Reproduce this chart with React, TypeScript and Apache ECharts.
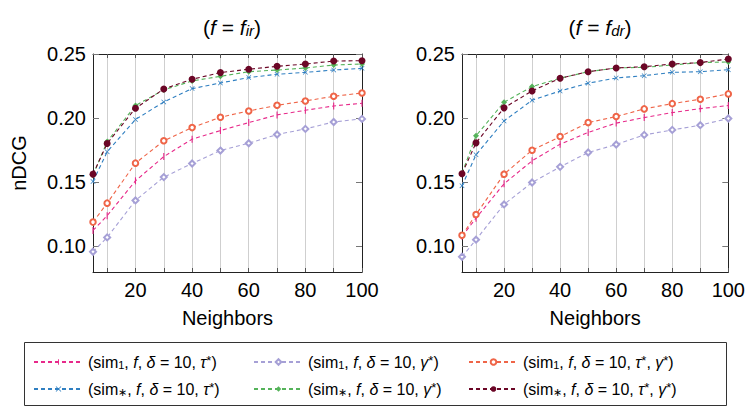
import React, { useEffect, useRef } from "react";
import * as echarts from "echarts";

const neighbors = [5, 10, 20, 30, 40, 50, 60, 70, 80, 90, 100];
const xTickValues = [10, 20, 30, 40, 50, 60, 70, 80, 90, 100];
const xLabelValues = [20, 40, 60, 80, 100];
const yTickValues = [0.1, 0.15, 0.2, 0.25];

// Panel (f = f_ir)
const simOneTauIr = [0.1124, 0.1239, 0.1511, 0.17, 0.1836, 0.1903, 0.1965, 0.2025, 0.2061, 0.2095, 0.2116];
const simOneGammaIr = [0.0958, 0.107, 0.1358, 0.154, 0.1646, 0.1747, 0.1804, 0.1872, 0.1916, 0.197, 0.1994];
const simOneTauGammaIr = [0.1189, 0.1337, 0.1649, 0.1823, 0.1926, 0.2007, 0.2056, 0.21, 0.2134, 0.217, 0.2196];
const simStarTauIr = [0.1506, 0.1737, 0.1989, 0.2126, 0.223, 0.2274, 0.2316, 0.2342, 0.2357, 0.2375, 0.2388];
const simStarGammaIr = [0.1555, 0.1817, 0.2098, 0.222, 0.229, 0.2326, 0.2362, 0.2375, 0.2391, 0.2414, 0.2422];
const simStarTauGammaIr = [0.1563, 0.1802, 0.2077, 0.2227, 0.2303, 0.2355, 0.2381, 0.2404, 0.2422, 0.2445, 0.2448];

// Panel (f = f_dr)
const simOneTauDr = [0.1078, 0.122, 0.1488, 0.1667, 0.1797, 0.1888, 0.1961, 0.2004, 0.2043, 0.2074, 0.2098];
const simOneGammaDr = [0.0919, 0.1052, 0.1327, 0.1498, 0.162, 0.1732, 0.1794, 0.1869, 0.1908, 0.1945, 0.1997];
const simOneTauGammaDr = [0.1086, 0.1249, 0.1563, 0.175, 0.1856, 0.1965, 0.2012, 0.2072, 0.2113, 0.2147, 0.2189];
const simStarTauDr = [0.1472, 0.1714, 0.1978, 0.2139, 0.2212, 0.2272, 0.2313, 0.2331, 0.2357, 0.2362, 0.2378];
const simStarGammaDr = [0.157, 0.1862, 0.2124, 0.2246, 0.2311, 0.2362, 0.2391, 0.2396, 0.2414, 0.2433, 0.2438];
const simStarTauGammaDr = [0.1566, 0.1807, 0.208, 0.2212, 0.2311, 0.2362, 0.2391, 0.2401, 0.2422, 0.2433, 0.2461];

const seriesNames = ["s1tau", "s1gamma", "s1taugamma", "sstau", "ssgamma", "sstaugamma"];
const legendLabels = [
  "{n|(sim}{sub|1}{n|, }{i|f}{n|, }{i|δ}{n| = 10, }{i|τ}{sup|*}{n|)}",
  "{n|(sim}{sub|1}{n|, }{i|f}{n|, }{i|δ}{n| = 10, }{i|γ}{sup|*}{n|)}",
  "{n|(sim}{sub|1}{n|, }{i|f}{n|, }{i|δ}{n| = 10, }{i|τ}{sup|*}{n|, }{i|γ}{sup|*}{n|)}",
  "{n|(sim}{sub|∗}{n|, }{i|f}{n|, }{i|δ}{n| = 10, }{i|τ}{sup|*}{n|)}",
  "{n|(sim}{sub|∗}{n|, }{i|f}{n|, }{i|δ}{n| = 10, }{i|γ}{sup|*}{n|)}",
  "{n|(sim}{sub|∗}{n|, }{i|f}{n|, }{i|δ}{n| = 10, }{i|τ}{sup|*}{n|, }{i|γ}{sup|*}{n|)}",
];
const panelTitles = [
  "{n|(}{i|f}{n| = }{i|f}{isub|ir}{n|)}",
  "{n|(}{i|f}{n| = }{i|f}{isub|dr}{n|)}",
];

const FONT = "Liberation Sans";

const colors = ["#e7298a", "#a6a0d6", "#ef6548", "#2f7fc1", "#55b35a", "#6b0626"];
const symbols = [
  "path://M0,0M4.2,0h1.6v10h-1.6zM10,10",
  "emptyDiamond",
  "emptyCircle",
  "path://M0,1L1,0L5,4L9,0L10,1L6,5L10,9L9,10L5,6L1,10L0,9L4,5Z",
  "diamond",
  "circle",
];
const symbolSizes = [7, 6, 5.5, 5, 6, 7];

const richText = (size: number) => ({
  n: { fontFamily: FONT, fontSize: size, color: "#000" },
  i: { fontFamily: FONT, fontSize: size, fontStyle: "italic", color: "#000" },
  sub: { fontFamily: FONT, fontSize: Math.round(size * 0.7), color: "#000", verticalAlign: "bottom" },
  isub: { fontFamily: FONT, fontSize: Math.round(size * 0.7), fontStyle: "italic", color: "#000", verticalAlign: "bottom" },
  sup: { fontFamily: FONT, fontSize: Math.round(size * 0.8), color: "#000", verticalAlign: "top" },
});

export default function App() {
  const ref = useRef<HTMLDivElement>(null);
  useEffect(() => {
    if (!ref.current) return;
    const chart = echarts.init(ref.current, undefined, { renderer: "svg" });
    const panels = [
      [simOneTauIr, simOneGammaIr, simOneTauGammaIr, simStarTauIr, simStarGammaIr, simStarTauGammaIr],
      [simOneTauDr, simOneGammaDr, simOneTauGammaDr, simStarTauDr, simStarGammaDr, simStarTauGammaDr],
    ];
    const grids = [
      { left: 93, top: 54, width: 269, height: 218 },
      { left: 462, top: 54, width: 267, height: 218 },
    ];
    const axisLineStyle = { color: "#222", width: 1 };
    const xAxes: any[] = [];
    const yAxes: any[] = [];
    grids.forEach((_, g) => {
      xAxes.push({
        type: "value", gridIndex: g, position: "bottom", min: 5, max: 100,
        name: "Neighbors", nameLocation: "middle", nameGap: 36,
        nameTextStyle: { fontFamily: FONT, fontSize: 20, color: "#000" },
        axisLine: { show: true, onZero: false, lineStyle: axisLineStyle },
        axisTick: { show: true, inside: true, length: 4, customValues: xTickValues, lineStyle: { color: "#555" } },
        axisLabel: { customValues: xLabelValues, margin: 8, fontFamily: FONT, fontSize: 20, color: "#000" },
        splitLine: { show: true, lineStyle: { color: "#cfcfcf", width: 1 } },
      });
      xAxes.push({
        type: "value", gridIndex: g, position: "top", min: 5, max: 100,
        axisLine: { show: true, onZero: false, lineStyle: axisLineStyle },
        axisTick: { show: true, inside: true, length: 4, customValues: xTickValues, lineStyle: { color: "#555" } },
        axisLabel: { show: false },
        splitLine: { show: false },
      });
      yAxes.push({
        type: "value", gridIndex: g, position: "left", min: 0.08, max: 0.25,
        name: g === 0 ? "nDCG" : "", nameLocation: "middle", nameGap: 64,
        nameTextStyle: { fontFamily: FONT, fontSize: 20, color: "#000" },
        axisLine: { show: true, onZero: false, lineStyle: axisLineStyle },
        axisTick: { show: true, inside: true, length: 6, customValues: yTickValues, lineStyle: { color: "#777" } },
        axisLabel: { customValues: yTickValues, margin: 7, fontFamily: FONT, fontSize: 20, color: "#000", formatter: (v: number) => v.toFixed(2) },
        splitLine: { show: false },
      });
      yAxes.push({
        type: "value", gridIndex: g, position: "right", min: 0.08, max: 0.25,
        axisLine: { show: true, onZero: false, lineStyle: axisLineStyle },
        axisTick: { show: true, inside: true, length: 6, customValues: yTickValues, lineStyle: { color: "#777" } },
        axisLabel: { show: false },
        splitLine: { show: false },
      });
    });

    const series: any[] = [];
    panels.forEach((panel, g) => {
      panel.forEach((vals, k) => {
        series.push({
          type: "line",
          name: seriesNames[k],
          xAxisIndex: g * 2,
          yAxisIndex: g * 2,
          data: neighbors.map((x, i) => [x, vals[i]]),
          symbol: symbols[k],
          symbolSize: symbolSizes[k],
          showAllSymbol: true,
          color: colors[k],
          lineStyle: { width: 1.1, type: [4, 3], color: colors[k] },
          itemStyle: { color: colors[k], borderWidth: k === 1 || k === 2 ? 1 : 0 },
          z: 2 + k,
          silent: true,
        });
      });
    });

    const legendLefts = [33, 253, 468];
    const legendTops = [354, 381];
    const legends = seriesNames.map((name, k) => ({
      show: true,
      data: [name],
      left: legendLefts[k % 3],
      top: legendTops[Math.floor(k / 3)],
      padding: 0,
      itemWidth: 49,
      itemHeight: 7,
      selectedMode: false,
      formatter: () => legendLabels[k],
      textStyle: { fontFamily: FONT, fontSize: 16, color: "#000", rich: richText(16) },
    }));

    chart.setOption({
      animation: false,
      backgroundColor: "#fff",
      title: panelTitles.map((t, g) => ({
        text: t,
        left: g === 0 ? 227 : 595,
        top: 12,
        textAlign: "center",
        textStyle: { fontFamily: FONT, fontSize: 21, fontWeight: "normal", color: "#000", rich: richText(21) },
      })),
      grid: grids,
      xAxis: xAxes,
      yAxis: yAxes,
      legend: legends,
      series,
      graphic: [
        {
          type: "rect",
          shape: { x: 24.5, y: 342.5, width: 702, height: 63 },
          style: { fill: "none", stroke: "#333", lineWidth: 1 },
          silent: true,
          z: 0,
        },
      ],
    });
    return () => chart.dispose();
  }, []);
  return <div ref={ref} style={{ position: "absolute", left: 0, top: 0, width: 748, height: 410 }} />;
}
